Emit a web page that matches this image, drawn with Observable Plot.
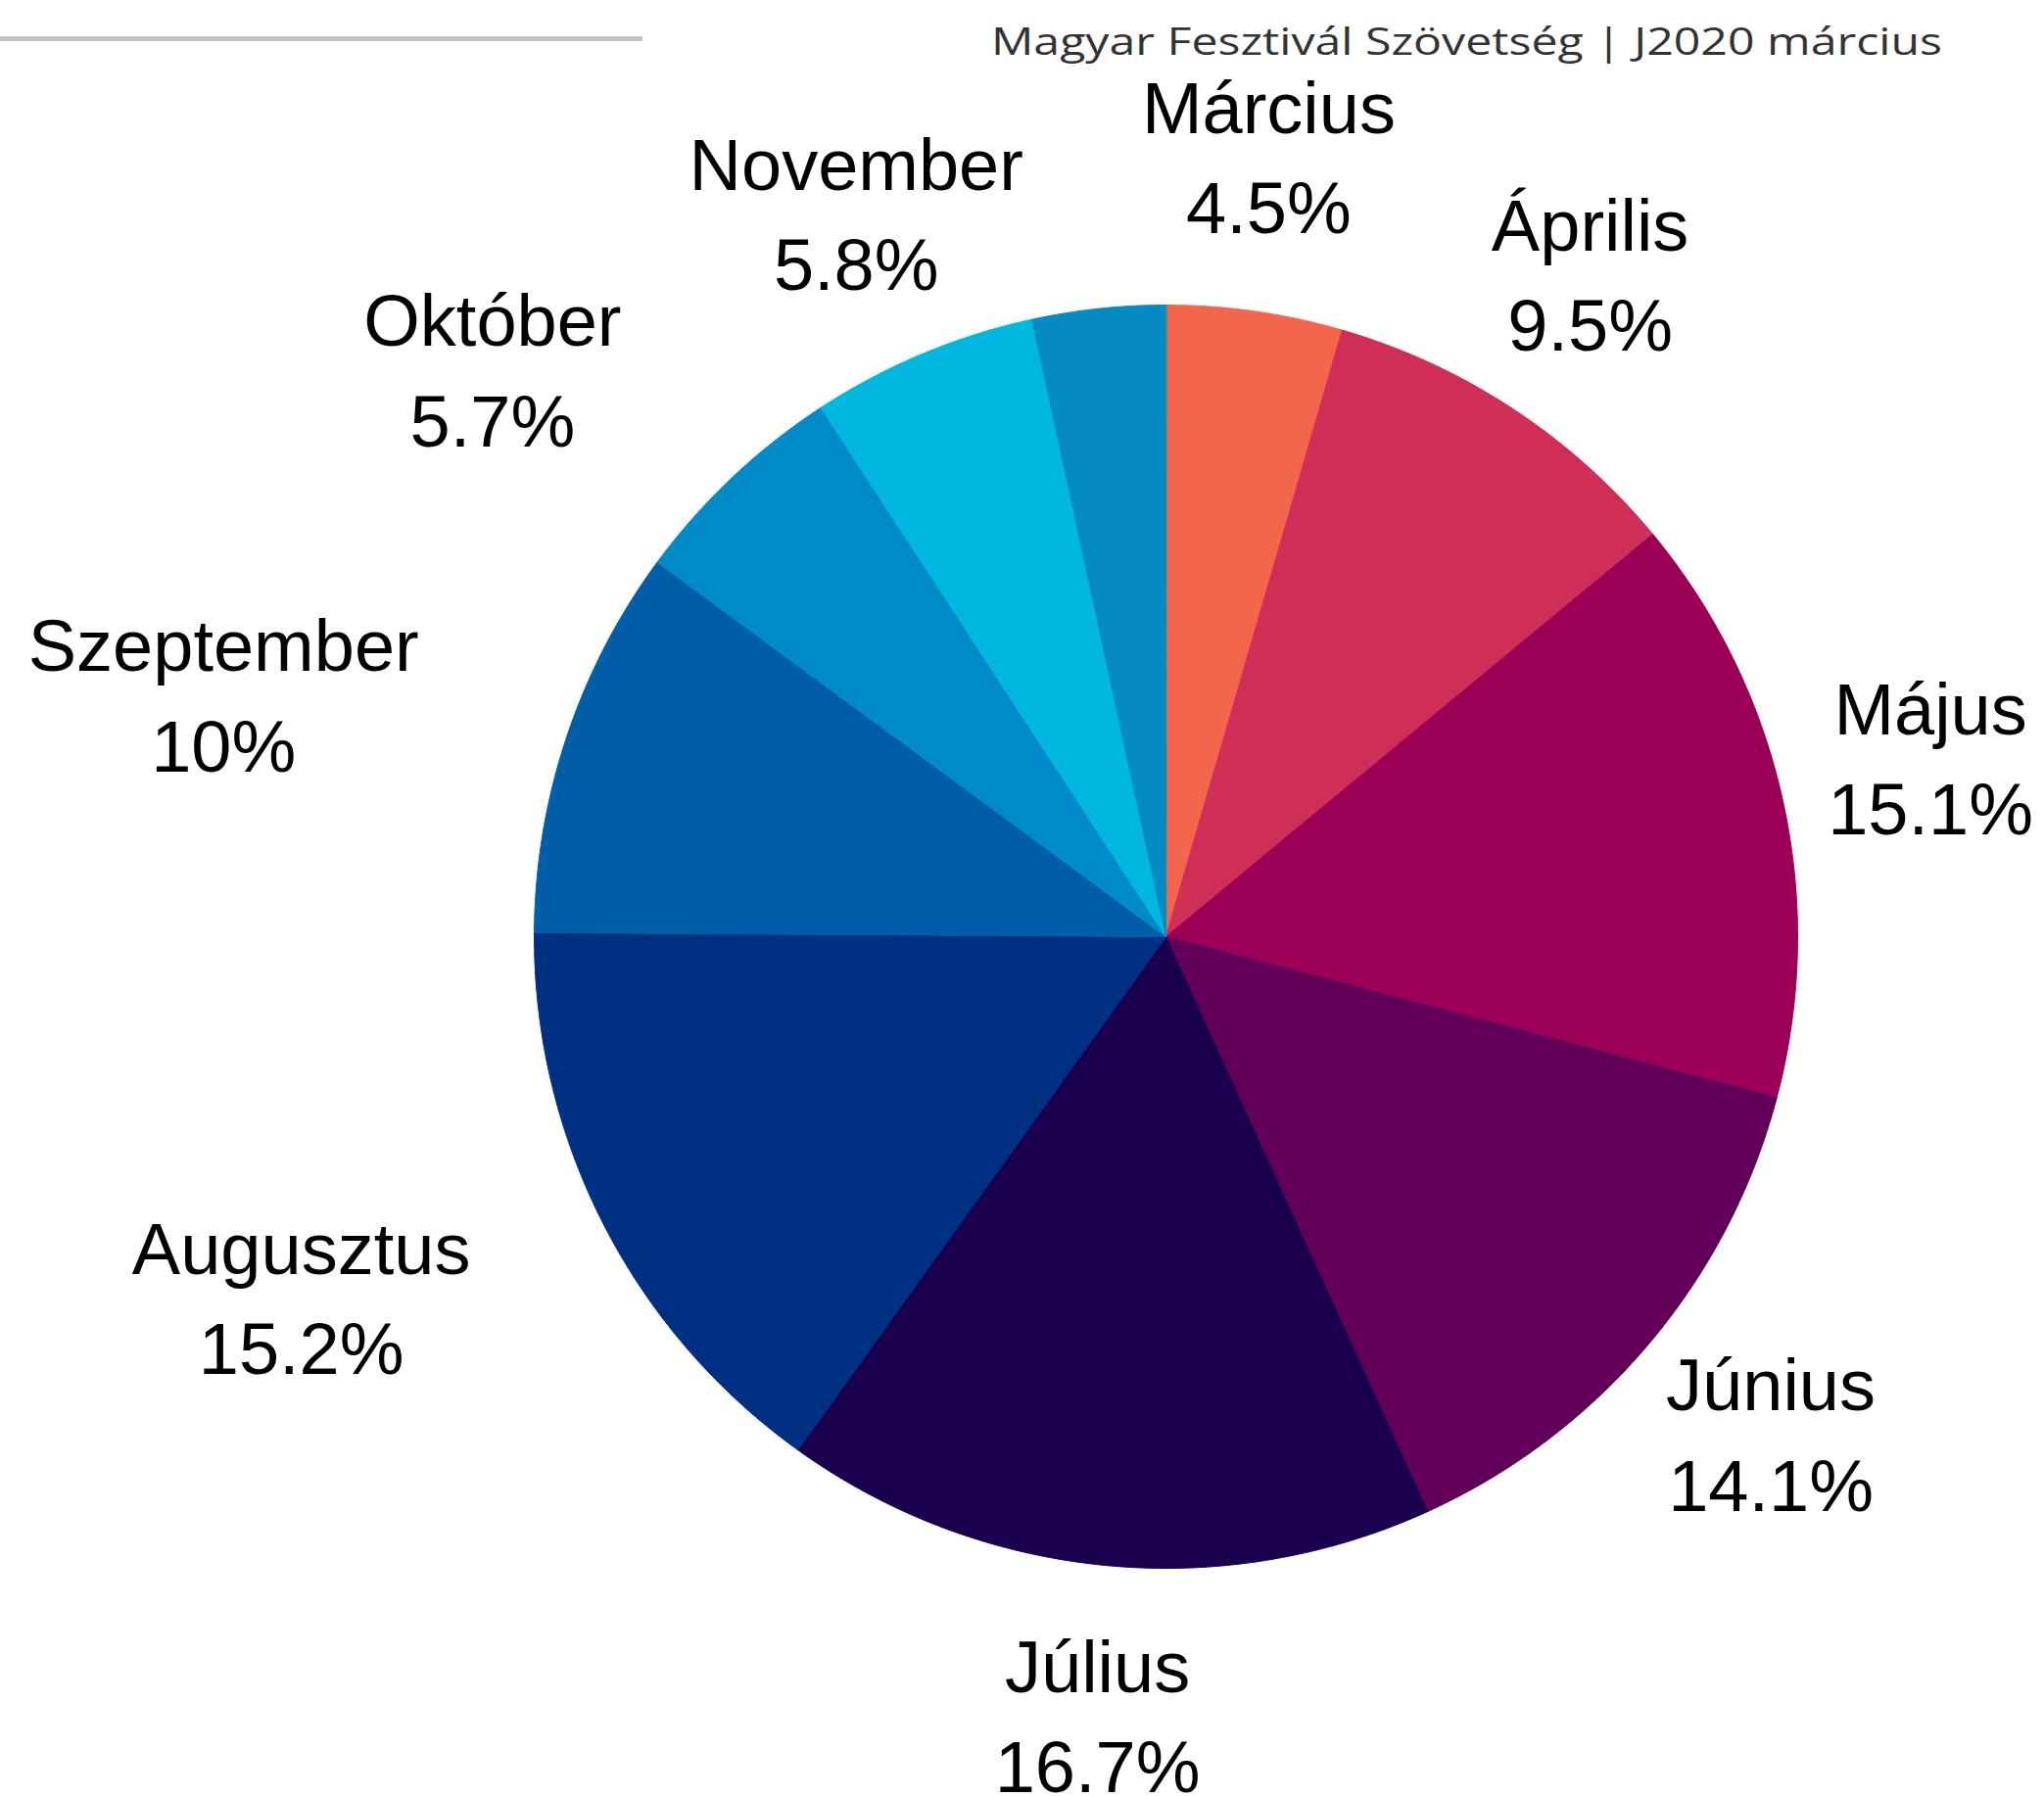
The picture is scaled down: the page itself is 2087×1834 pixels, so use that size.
<!DOCTYPE html>
<html>
<head>
<meta charset="utf-8">
<script src="https://cdn.jsdelivr.net/npm/d3@7"></script>
<script src="https://cdn.jsdelivr.net/npm/@observablehq/plot@0.6"></script>
<style>
  html, body { margin: 0; padding: 0; background: #ffffff; }
  #header { display: block; }
  #chart svg { display: block; }
</style>
</head>
<body>
<svg id="header" width="2087" height="66">
  <rect x="0" y="37" width="656" height="5" fill="#c4c4c4"></rect>
  <text x="1983" y="56" text-anchor="end" font-family="'Open Sans', Lato, sans-serif" font-size="39" fill="#333333" textLength="971" lengthAdjust="spacingAndGlyphs">Magyar Fesztivál Szövetség | J2020 március</text>
</svg>
<div id="chart"></div>
<script>
// Data
const months = ["Március", "Április", "Május", "Június", "Július", "Augusztus", "Szeptember", "Október", "November", "December"];
const shares = [4.5, 9.5, 15.1, 14.1, 16.7, 15.2, 10, 5.7, 5.8, 3.4];
const colors = ["#F2674B", "#CF2F56", "#9C0056", "#620059", "#1B004F", "#003082", "#005EA8", "#008BC8", "#00B8DF", "#068AC4"];

// Layout
const W = 2087, H = 1768;
const cx = 1190, cy = 890, R = 645;
const FONT = "'Liberation Sans', Arial, sans-serif";
const FS = 74;

const rows = months.map((m, i) => ({name: m, value: shares[i]}));
const arcs = d3.pie().sort(null).value(d => d.value).startAngle(0).endAngle(2 * Math.PI)(rows);

// slice outlines (center + arc samples) in unit-circle coordinates
const slicePts = [];
for (const a of arcs) {
  const n = Math.max(2, Math.ceil((a.endAngle - a.startAngle) / 0.005));
  slicePts.push({name: a.data.name, x: 0, y: 0});
  for (let k = 0; k <= n; k++) {
    const t = a.startAngle + (a.endAngle - a.startAngle) * k / n;
    slicePts.push({name: a.data.name, x: Math.sin(t), y: Math.cos(t)});
  }
}

// text measurement for right-edge placement of left-side labels
const ctx = document.createElement("canvas").getContext("2d");
ctx.font = `${FS}px ${FONT}`;
const measure = s => ctx.measureText(s).width;

const labelR = 1.242;
const labelRot = -0.01;
const labels = arcs.filter(a => a.data.value >= 4).map(a => {
  const m = (a.startAngle + a.endAngle) / 2 + labelRot;
  const deg = m * 180 / Math.PI;
  const lines = [a.data.name, `${a.data.value}%`];
  let x = labelR * Math.sin(m);
  if (deg > 220 && deg < 330) {
    const w = Math.max(...lines.map(measure));
    x -= (w / 2) / R;
  }
  return {x, y: labelR * Math.cos(m), text: lines.join("\n")};
});

const chart = Plot.plot({
  width: W,
  height: H,
  margin: 0,
  x: {domain: [-cx / R, (W - cx) / R], axis: null},
  y: {domain: [-(H - cy) / R, cy / R], axis: null},
  color: {domain: months, range: colors},
  style: {background: "#ffffff"},
  marks: [
    Plot.line(slicePts, {x: "x", y: "y", z: "name", fill: "name", stroke: "name", strokeWidth: 1, curve: "linear-closed"}),
    Plot.text(labels, {
      x: "x", y: "y", text: "text",
      fontSize: FS, lineHeight: 1.38, fontFamily: FONT,
      fill: "#000000", textAnchor: "middle", dy: -8
    })
  ]
});
document.getElementById("chart").appendChild(chart);
</script>
</body>
</html>
